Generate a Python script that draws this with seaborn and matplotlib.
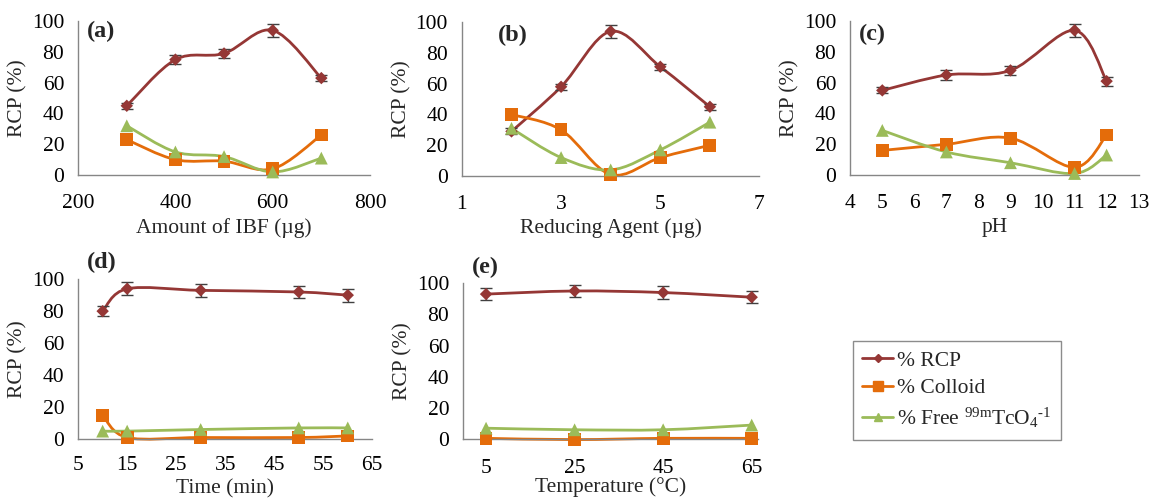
import numpy as np
import pandas as pd
import matplotlib
matplotlib.use('Agg')
import matplotlib.pyplot as plt
from matplotlib.path import Path
from matplotlib.patches import PathPatch
from matplotlib.lines import Line2D
import seaborn as sns

# values
ibf_x = [300, 400, 500, 600, 700]
ibf_rcp = [45, 75, 79, 94, 63]
ibf_rcp_err = [2, 3, 3, 4, 2]
ibf_colloid = [23, 10, 9, 4, 26]
ibf_free = [32, 15, 12, 2, 11]

red_x = [2, 3, 4, 5, 6]
red_rcp = [29, 58, 94, 71, 45]
red_rcp_err = [2, 2, 4, 2, 2]
red_colloid = [40, 30, 1, 12, 20]
red_free = [31, 12, 4, 17, 35]

ph_x = [5, 7, 9, 11, 12]
ph_rcp = [55, 65, 68, 94, 61]
ph_rcp_err = [2, 3, 3, 4, 3]
ph_colloid = [16, 20, 24, 5, 26]
ph_free = [29, 15, 8, 1, 13]

time_x = [10, 15, 30, 50, 60]
time_rcp = [80, 94, 93, 92, 90]
time_rcp_err = [3, 4, 4, 4, 4]
time_colloid = [15, 1, 1, 1, 2]
time_free = [5, 5, 6, 7, 7]

temp_x = [5, 25, 45, 65]
temp_rcp = [93, 95, 94, 91]
temp_rcp_err = [4, 4, 4, 4]
temp_colloid = [0.5, -0.3, 0.5, 0.5]
temp_free = [7, 6, 6, 9]

series_names = ['% RCP', '% Colloid',
                '% Free $^{\\mathrm{99m}}$TcO$_{4}$$^{\\text{-1}}$']
colors = ['#953735', '#E46C0A', '#9BBB59']
markers = ['D', 's', '^']
msizes = [40, 85, 85]

sns.set_style('white')
plt.rcParams['font.family'] = ['Liberation Serif', 'DejaVu Serif']
plt.rcParams['mathtext.fontset'] = 'custom'
plt.rcParams['mathtext.rm'] = 'Liberation Serif'
plt.rcParams['mathtext.it'] = 'Liberation Serif:italic'

fig = plt.figure(figsize=(11.49, 5.03), dpi=100)


def smooth_patch(ax, x, y, color):
    # Excel style smoothed line: cubic bezier through the points
    pts = np.column_stack([x, y]).astype(float)
    n = len(pts)
    verts = [pts[0]]
    codes = [Path.MOVETO]
    for i in range(n - 1):
        p0 = pts[max(i - 1, 0)]
        p1 = pts[i]
        p2 = pts[i + 1]
        p3 = pts[min(i + 2, n - 1)]
        verts += [p1 + (p2 - p0) / 6, p2 - (p3 - p1) / 6, p2]
        codes += [Path.CURVE4] * 3
    ax.add_patch(PathPatch(Path(verts, codes), facecolor='none',
                           edgecolor=color, lw=2, clip_on=False, zorder=2))


def panel(rect, x, rcp, err, colloid, free, xlim, xticks, xlabel, tag, tag_pos,
          xtick_len=6, xpad=8, xlabelpad=3):
    ax = fig.add_axes(rect)
    ax.errorbar(x, rcp, yerr=err, fmt='none', ecolor='#404040', elinewidth=1,
                capsize=4, zorder=3)
    for yv, c, m, s in zip([rcp, colloid, free], colors, markers, msizes):
        smooth_patch(ax, x, yv, c)
        df = pd.DataFrame({'x': x, 'y': yv})
        sns.scatterplot(data=df, x='x', y='y', ax=ax, color=c, marker=m, s=s,
                        edgecolor='none', zorder=4, clip_on=False)
    ax.set_xlim(*xlim)
    ax.set_ylim(0, 100)
    ax.set_xticks(xticks)
    ax.set_yticks([0, 20, 40, 60, 80, 100])
    ax.set_xlabel(xlabel, fontsize=15.5, labelpad=xlabelpad)
    ax.set_ylabel('RCP (%)', fontsize=15.5, labelpad=3)
    ax.tick_params(labelsize=15.5, colors='#868686', labelcolor='black')
    ax.tick_params(axis='x', direction='out', length=xtick_len, width=1, pad=xpad)
    ax.tick_params(axis='y', direction='out', length=6, width=1, pad=4)
    for s in ['top', 'right']:
        ax.spines[s].set_visible(False)
    for s in ['left', 'bottom']:
        ax.spines[s].set_color('#868686')
        ax.spines[s].set_linewidth(1)
    ax.text(tag_pos[0], tag_pos[1], tag, transform=ax.transAxes, fontsize=17.5,
            fontweight='bold', va='top', ha='left')
    return ax


panel([0.068, 0.652, 0.254, 0.306], ibf_x, ibf_rcp, ibf_rcp_err, ibf_colloid,
      ibf_free, (200, 800), [200, 400, 600, 800], 'Amount of IBF (µg)', '(a)',
      (0.03, 1.0))
panel([0.402, 0.650, 0.259, 0.306], red_x, red_rcp, red_rcp_err, red_colloid,
      red_free, (1, 7), [1, 3, 5, 7], 'Reducing Agent (µg)', '(b)',
      (0.12, 0.98))
panel([0.740, 0.652, 0.251, 0.306], ph_x, ph_rcp, ph_rcp_err, ph_colloid,
      ph_free, (4, 13), list(range(4, 14)), 'pH', '(c)', (0.03, 0.98))
panel([0.068, 0.127, 0.256, 0.318], time_x, time_rcp, time_rcp_err, time_colloid,
      time_free, (5, 65), list(range(5, 66, 10)), 'Time (min)', '(d)',
      (0.03, 1.17), xpad=6, xlabelpad=3)
panel([0.403, 0.127, 0.257, 0.310], temp_x, temp_rcp, temp_rcp_err, temp_colloid,
      temp_free, (-0.2, 66.5), temp_x, 'Temperature (°C)', '(e)',
      (0.03, 1.17), xtick_len=0, xpad=14, xlabelpad=0)

handles = [Line2D([0], [0], color=c, lw=2, marker=m, markersize=ms)
           for c, m, ms in zip(colors, ['D', 's', '^'], [4, 7, 6])]
leg = fig.legend(handles, series_names, loc='upper left',
                 bbox_to_anchor=(0.742, 0.322), fontsize=15.5, frameon=True,
                 fancybox=False, edgecolor='#6f6f6f', handlelength=1.45,
                 handletextpad=0.15, labelspacing=0.35, borderpad=0.45,
                 borderaxespad=0)
leg.get_frame().set_linewidth(1)

fig.savefig('out.png', dpi=100)
plt.close(fig)
